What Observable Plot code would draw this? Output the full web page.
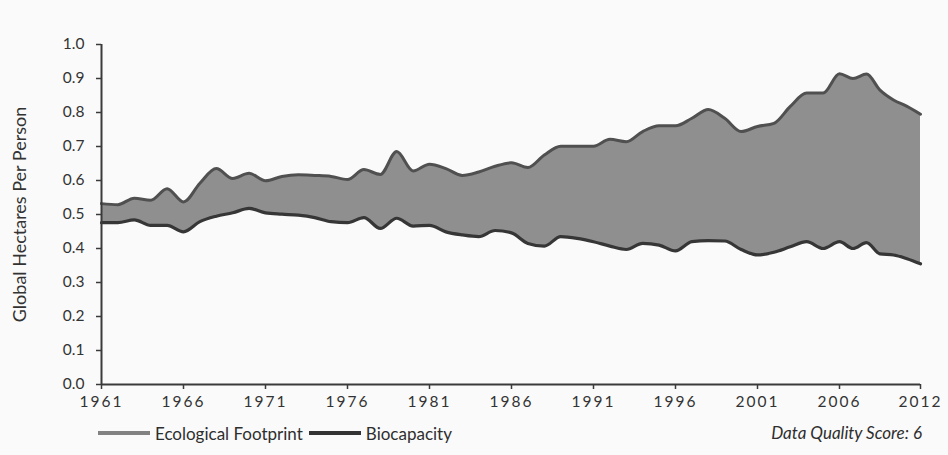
<!DOCTYPE html>
<html>
<head>
<meta charset="utf-8">
<script src="https://cdn.jsdelivr.net/npm/d3@7"></script>
<script src="https://cdn.jsdelivr.net/npm/@observablehq/plot@0.6"></script>
<style>
  html, body { margin: 0; padding: 0; background: #fafafa; }
  body { width: 948px; height: 455px; overflow: hidden; font-family: Lato, "DejaVu Sans", sans-serif; }
  #chart { position: absolute; left: 0; top: 0; }
  .legend { position: absolute; top: 420px; left: 98px; height: 26px; font-size: 17px; color: #2e2e2e; display: flex; align-items: center; }
  .legend .item { display: flex; align-items: center; height: 26px; margin-right: 6px; }
  .legend .sw { display: inline-block; width: 52px; height: 4px; margin-right: 5px; }
  .score { position: absolute; right: 26px; top: 420px; line-height: 26px; font-style: italic; font-size: 17px; color: #2e2e2e; }
  #chart svg .xt text { letter-spacing: 2px; }
  #chart svg .yl text { letter-spacing: 1.5px; }
</style>
</head>
<body>
<div id="chart"></div>
<div class="legend">
  <div class="item"><span class="sw" style="background:#828282"></span><span id="lg1"></span></div>
  <div class="item"><span class="sw" style="background:#333333"></span><span id="lg2"></span></div>
</div>
<div class="score" id="lg3"></div>
<script>
const years = d3.range(1961, 2013);
const footprint = [
  0.532, 0.529, 0.548, 0.542, 0.576, 0.537, 0.592, 0.635, 0.606, 0.621,
  0.599, 0.612, 0.617, 0.615, 0.612, 0.603, 0.632, 0.618, 0.685, 0.628,
  0.648, 0.635, 0.615, 0.625, 0.642, 0.652, 0.638, 0.675, 0.701, 0.701,
  0.701, 0.721, 0.714, 0.744, 0.761, 0.761, 0.783, 0.809, 0.783, 0.744,
  0.759, 0.768, 0.818, 0.857, 0.857, 0.914, 0.900, 0.913, 0.866, 0.837,
  0.818, 0.795
];
const biocapacity = [
  0.476, 0.476, 0.484, 0.468, 0.468, 0.449, 0.479, 0.495, 0.505, 0.518,
  0.505, 0.501, 0.498, 0.491, 0.479, 0.476, 0.491, 0.459, 0.489, 0.466,
  0.468, 0.449, 0.440, 0.435, 0.453, 0.446, 0.415, 0.407, 0.435, 0.430,
  0.420, 0.407, 0.397, 0.415, 0.410, 0.393, 0.420, 0.423, 0.422, 0.397,
  0.381, 0.389, 0.405, 0.420, 0.400, 0.420, 0.400, 0.417, 0.384, 0.381,
  0.370, 0.355
];
const xTickYears = [1961, 1966, 1971, 1976, 1981, 1986, 1991, 1996, 2001, 2006, 2012];
const yTicks = d3.range(0, 11).map(i => i / 10);
const seriesNames = ["Ecological Footprint", "Biocapacity"];
const yLabel = "Global Hectares Per Person";
const scoreText = "Data Quality Score: 6";

const data = years.map((y, i) => ({year: y, eco: footprint[i], bio: biocapacity[i]}));

document.getElementById("lg1").textContent = seriesNames[0];
document.getElementById("lg2").textContent = seriesNames[1];
document.getElementById("lg3").textContent = scoreText;

const chart = Plot.plot({
  width: 948,
  height: 416,
  marginTop: 44,
  marginBottom: 32,
  marginLeft: 101,
  marginRight: 28,
  style: {background: "transparent", fontFamily: "Lato, 'DejaVu Sans', sans-serif", fontSize: "15px", color: "#333"},
  x: {type: "linear", domain: [1961, 2006, 2012], range: [101, 839, 920]},
  y: {domain: [0, 1]},
  marks: [
    Plot.areaY(data, {x: "year", y1: "bio", y2: "eco", fill: "#8f8f8f", curve: "monotone-x"}),
    Plot.lineY(data, {x: "year", y: "eco", stroke: "#505050", strokeWidth: 3, curve: "monotone-x"}),
    Plot.lineY(data, {x: "year", y: "bio", stroke: "#363636", strokeWidth: 3.2, curve: "monotone-x"}),
    Plot.ruleX([1961], {stroke: "#3a3a3a", strokeWidth: 2}),
    Plot.ruleY([0], {stroke: "#3a3a3a", strokeWidth: 2}),
    Plot.axisY({ticks: yTicks, tickFormat: d => d.toFixed(1), tickSize: 5, tickPadding: 12, stroke: "#3a3a3a", strokeWidth: 1.5,
      label: null, fontSize: 15.5}),
    Plot.axisY({ticks: [], label: yLabel, labelAnchor: "center", labelArrow: "none", labelOffset: 88, fontSize: 18, className: "yl"}),
    Plot.axisX({ticks: xTickYears, tickFormat: d => String(d), tickSize: 5, tickPadding: 6, stroke: "#3a3a3a", strokeWidth: 1.5,
      label: null, fontSize: 15.5, className: "xt"})
  ]
});
document.getElementById("chart").appendChild(chart);
</script>
</body>
</html>
